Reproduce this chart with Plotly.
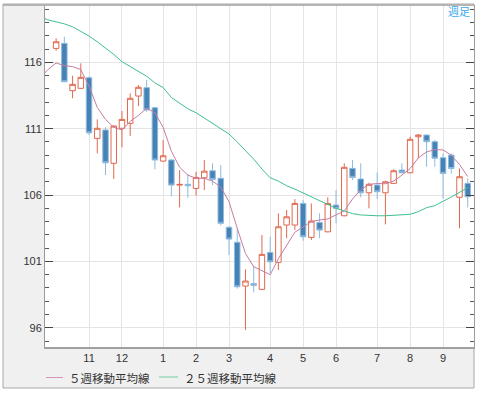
import plotly.graph_objects as go

# ---------------- data ----------------
weeks = list(range(51))
opens = [117.05, 117.43, 113.86, 114.04, 114.84, 110.27, 110.90, 108.39, 111.03, 111.40,
         113.46, 114.09, 112.58, 108.56, 108.64, 106.75, 106.81, 106.50, 107.30, 107.83,
         107.26, 103.57, 102.44, 99.14, 99.33, 98.89, 101.68, 100.93, 103.74, 103.74,
         105.37, 102.81, 103.94, 103.23, 105.25, 104.44, 108.01, 107.21, 106.17, 106.75,
         106.17, 106.88, 107.88, 107.68, 110.39, 110.52, 110.02, 108.81, 109.01, 105.83,
         106.88]
highs = [117.81, 117.93, 114.99, 115.92, 114.95, 111.70, 111.10, 111.27, 112.33, 113.66,
         114.29, 114.67, 112.65, 110.14, 108.70, 107.88, 107.56, 107.76, 108.64, 108.39,
         108.26, 103.65, 103.49, 100.40, 100.67, 102.99, 102.86, 104.62, 104.87, 105.70,
         105.62, 105.37, 104.62, 105.83, 106.38, 108.39, 108.64, 108.39, 106.93, 107.71,
         107.08, 107.94, 108.39, 110.39, 110.60, 110.55, 110.15, 109.14, 109.14, 108.01,
         107.26]
lows = [116.88, 114.50, 113.29, 114.00, 110.52, 109.14, 107.51, 107.21, 109.59, 110.45,
        112.71, 112.28, 107.94, 108.50, 105.90, 105.07, 105.80, 105.95, 106.38, 106.75,
        103.72, 101.48, 98.95, 95.83, 98.67, 98.85, 100.10, 100.35, 102.74, 103.36,
        102.56, 102.61, 102.74, 103.19, 103.87, 104.40, 107.13, 105.83, 105.00, 105.70,
        103.79, 106.83, 107.64, 107.64, 108.77, 108.13, 108.13, 105.75, 107.60, 103.49,
        105.07]
closes = [117.55, 114.54, 114.34, 114.87, 110.69, 111.03, 108.43, 111.20, 111.70, 113.29,
          114.12, 112.41, 108.64, 108.96, 106.75, 106.80, 106.70, 107.33, 107.80, 107.18,
          103.87, 102.68, 99.09, 99.52, 99.19, 101.53, 100.97, 103.61, 104.36, 105.37,
          102.86, 104.04, 103.36, 105.37, 105.00, 108.09, 107.33, 106.17, 106.81, 106.25,
          107.00, 107.83, 107.68, 110.20, 110.52, 110.02, 108.77, 107.63, 108.00, 107.38,
          105.87]

ma_weeks = list(range(-2, 51))
ma5 = [114.8, 115.45, 115.95, 115.75, 115.68, 115.45, 114.2, 112.6, 111.7, 111.1,
       110.9, 111.55, 112.0, 112.55, 112.2, 111.1, 109.3, 108.1, 107.5, 107.26,
       107.26, 107.05, 106.6, 105.5, 103.5, 101.6, 100.6, 100.3, 100.0, 101.2,
       102.2, 103.2, 103.6, 104.0, 104.12, 104.2, 104.5, 104.8, 105.7, 106.4,
       106.8, 106.87, 106.85, 107.05, 107.5, 108.0, 108.8, 109.25, 109.42, 109.4,
       109.0, 108.3, 107.4]
ma25 = [119.45, 119.2, 119.05, 118.9, 118.68, 118.35, 117.98, 117.55, 117.1, 116.6,
        116.05, 115.7, 115.35, 114.95, 114.45, 114.1, 113.35, 112.9, 112.5, 112.2,
        111.8, 111.45, 111.05, 110.6, 110.0, 109.35, 108.7, 107.96, 107.3, 107.05,
        106.7, 106.45, 106.17, 105.9, 105.62, 105.3, 105.0, 104.8, 104.6, 104.5,
        104.46, 104.44, 104.44, 104.47, 104.5, 104.55, 104.75, 105.05, 105.2, 105.5,
        105.85, 106.2, 106.55]

month_pos = [4, 8, 13, 17, 21, 26, 30, 34, 39, 43, 47]
month_labels = ["11", "12", "1", "2", "3", "4", "5", "6", "7", "8", "9"]
y_ticks = [96, 101, 106, 111, 116]
legend_names = ["５週移動平均線", "２５週移動平均線"]
period_label = "週足"

# ---------------- figure ----------------
W, H = 478, 393
L, R, T, B = 45, 4, 5, 46
pw, ph = W - L - R, H - T - B

def px(xp):
    return (xp - L) / pw

def py(yp):
    return (H - B - yp) / ph

up_col = "#e0694d"
dn_col = "#4682b4"
ma5_col = "#c87ca2"
ma25_col = "#3fc08c"

fig = go.Figure()
fig.add_trace(go.Candlestick(
    x=weeks, open=opens, high=highs, low=lows, close=closes,
    increasing=dict(line=dict(color=up_col, width=1), fillcolor="#ffffff"),
    decreasing=dict(line=dict(color="#8dbbdf", width=1), fillcolor=dn_col),
    whiskerwidth=0, showlegend=False, hoverinfo="skip"))
fig.add_trace(go.Scatter(x=ma_weeks, y=ma5, mode="lines",
                         line=dict(color=ma5_col, width=1), name=legend_names[0],
                         showlegend=False, hoverinfo="skip"))
fig.add_trace(go.Scatter(x=ma_weeks, y=ma25, mode="lines",
                         line=dict(color=ma25_col, width=1), name=legend_names[1],
                         showlegend=False, hoverinfo="skip"))

shapes = [
    # outer frame
    dict(type="rect", xref="paper", yref="paper", x0=px(3), x1=px(474), y0=py(388), y1=py(4),
         fillcolor="#f0f0f0", line=dict(color="#a8a8a8", width=1), layer="below"),
    # plot area
    dict(type="rect", xref="paper", yref="paper", x0=0, x1=1, y0=0, y1=1,
         fillcolor="#ffffff", line=dict(width=0), layer="below"),
    # top thick border
    dict(type="line", xref="paper", yref="paper", x0=px(3), x1=px(474), y0=py(5), y1=py(5),
         line=dict(color="#b4b4b4", width=2), layer="above"),
    # legend line samples
    dict(type="line", xref="paper", yref="paper", x0=px(46), x1=px(63), y0=py(377.5), y1=py(377.5),
         line=dict(color="#d496b4", width=1)),
    dict(type="line", xref="paper", yref="paper", x0=px(159), x1=px(178), y0=py(377), y1=py(377),
         line=dict(color="#6fcfa4", width=1)),
]

annotations = [
    dict(text=legend_names[0], xref="paper", yref="paper", x=px(67), y=py(378),
         xanchor="left", yanchor="middle", showarrow=False,
         font=dict(family="Noto Sans CJK JP", size=11.5, color="#333333")),
    dict(text=legend_names[1], xref="paper", yref="paper", x=px(182), y=py(378),
         xanchor="left", yanchor="middle", showarrow=False,
         font=dict(family="Noto Sans CJK JP", size=11.5, color="#333333")),
    dict(text=period_label, xref="paper", yref="paper", x=px(472), y=py(11),
         xanchor="right", yanchor="middle", showarrow=False,
         font=dict(family="Noto Sans CJK JP", size=11, color="#3aa8ee")),
]

fig.update_layout(
    width=W, height=H,
    margin=dict(l=L, r=R, t=T, b=B, pad=0),
    paper_bgcolor="#ffffff",
    plot_bgcolor="#ffffff",
    font=dict(family="Liberation Sans, Arial, sans-serif", size=11, color="#333333"),
    showlegend=False,
    shapes=shapes,
    annotations=annotations,
    boxgap=0.05,
    xaxis=dict(
        range=[-1.35, 50.76], tickvals=month_pos, ticktext=month_labels,
        showgrid=True, gridcolor="#e4e4e4", gridwidth=1, zeroline=False,
        showline=True, linecolor="#a0a0a0", linewidth=1.5, ticks="",
        rangeslider=dict(visible=False), fixedrange=True,
        tickfont=dict(size=11, color="#333333"),
    ),
    yaxis=dict(
        range=[94.55, 120.32], tickvals=y_ticks,
        showgrid=True, gridcolor="#e4e4e4", gridwidth=1, zeroline=False,
        showline=True, linecolor="#9a9a9a", linewidth=1, mirror="ticks",
        ticks="inside", ticklen=8, tickcolor="#444444", tickwidth=1,
        minor=dict(dtick=1, tick0=0, ticks="inside", ticklen=4, tickcolor="#555555",
                   showgrid=False),
        tickfont=dict(size=11, color="#333333"), fixedrange=True,
    ),
)

fig.write_html("out.html", config={"displayModeBar": False},
               post_script="document.body.style.margin='0';document.body.style.overflow='hidden';")
